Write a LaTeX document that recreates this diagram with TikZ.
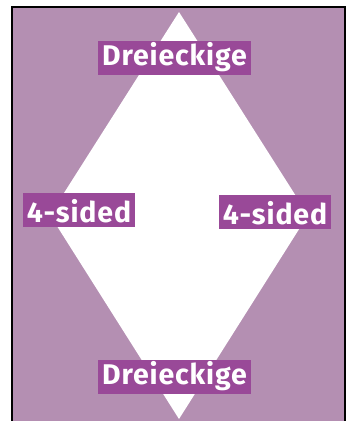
\documentclass[tikz,border=0pt]{standalone}
\usepackage{fontspec}
\setmainfont{Fira Sans}
\newfontfamily\tagfont[LetterSpace=3]{Fira Sans}
\usetikzlibrary{positioning}
\definecolor{lilacbg}{RGB}{180, 143, 178}
\definecolor{lilactag}{RGB}{153, 73, 152}

\begin{document}
\begin{tikzpicture}[
        x=1pt, y=-1pt,
        tag/.style={fill=lilactag, text=white, font=\tagfont\bfseries\fontsize{28.5}{32}\selectfont,
            inner xsep=0pt, inner ysep=5pt, text height=19.7pt, text depth=4.3pt, minimum width=153pt},
        sidetag/.style={tag, text height=24pt, text depth=0pt, minimum width=112pt}
    ]
        \useasboundingbox (0,0) rectangle (350,421);

        % Frame
        \fill[lilacbg] (12,7) rectangle (345,425);
        \draw[line width=2pt] (12,430) -- (12,7) -- (345,7) -- (345,430);

        % Diamond
        \coordinate (top) at (179,12);
        \coordinate (right) at (308,215);
        \coordinate (bottom) at (179,419);
        \coordinate (left) at (50,215);
        \fill[white] (top) -- (right) -- (bottom) -- (left) -- cycle;

        % Labels
        \node[tag] (toptag) at (174.5,58) {Dreieckige};
        \node[tag] (bottomtag) at (174.5,376.5) {Dreieckige};
        \node[sidetag] (lefttag) at (79,210) {4-sided};
        \node[sidetag] (righttag) at (275,212) {4-sided};
    \end{tikzpicture}
\end{document}
